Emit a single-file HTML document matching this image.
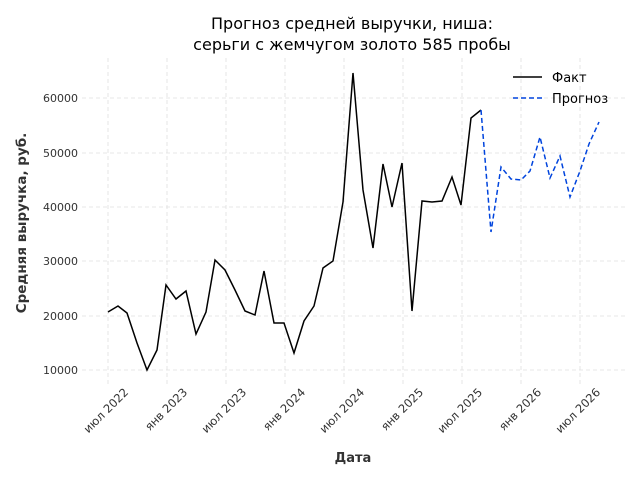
<!DOCTYPE html>
<html><head><meta charset="utf-8"><style>body{margin:0;background:#fff}svg{display:block}text{font-family:"DejaVu Sans","Liberation Sans",sans-serif}</style></head><body>
<svg width="640" height="480" viewBox="0 0 640 480">
<g stroke="#e0e0e0" stroke-width="0.8" stroke-dasharray="4,3">
<line x1="108" y1="58" x2="108" y2="387"/><line x1="167" y1="58" x2="167" y2="387"/><line x1="226" y1="58" x2="226" y2="387"/><line x1="285" y1="58" x2="285" y2="387"/><line x1="344" y1="58" x2="344" y2="387"/><line x1="403" y1="58" x2="403" y2="387"/><line x1="462" y1="58" x2="462" y2="387"/><line x1="521" y1="58" x2="521" y2="387"/><line x1="580" y1="58" x2="580" y2="387"/>
<line x1="82" y1="370" x2="625" y2="370"/><line x1="82" y1="316" x2="625" y2="316"/><line x1="82" y1="261" x2="625" y2="261"/><line x1="82" y1="207" x2="625" y2="207"/><line x1="82" y1="153" x2="625" y2="153"/><line x1="82" y1="98" x2="625" y2="98"/>
</g>
<g font-size="11" fill="#333" text-anchor="end">
<text x="78" y="374">10000</text><text x="78" y="320">20000</text><text x="78" y="265">30000</text><text x="78" y="211">40000</text><text x="78" y="157">50000</text><text x="78" y="102">60000</text>
</g>
<g font-size="11.5" fill="#333" text-anchor="end">
<text transform="translate(129,393) rotate(-45)">июл 2022</text>
<text transform="translate(188,393) rotate(-45)">янв 2023</text>
<text transform="translate(247,393) rotate(-45)">июл 2023</text>
<text transform="translate(306,393) rotate(-45)">янв 2024</text>
<text transform="translate(365,393) rotate(-45)">июл 2024</text>
<text transform="translate(424,393) rotate(-45)">янв 2025</text>
<text transform="translate(483,393) rotate(-45)">июл 2025</text>
<text transform="translate(542,393) rotate(-45)">янв 2026</text>
<text transform="translate(601,393) rotate(-45)">июл 2026</text>
</g>
<polyline fill="none" stroke="#000" stroke-width="1.5" points="108,312 118,306 127,313 137,343 147,370 157,350 166,285 176,299 186,291 196,334 206,312 215,260 225,270 235,290 245,311 255,315 264,271 274,323 284,323 294,353 304,321 314,306 323,268 333,261 343,202 353,73 363,190 373,248 383,164 392,207 402,163 412,311 422,201 432,202 442,201 452,177 461,205 471,118 481,110"/>
<polyline fill="none" stroke="#0044dd" stroke-width="1.5" stroke-dasharray="5,3" points="481,110 491,232 501,167 511,179 521,180 530,171 540,137 550,178 560,156 570,197 580,171 589,144 599,122"/>
<text x="352" y="29" font-size="16" text-anchor="middle" fill="#000">Прогноз средней выручки, ниша:</text>
<text x="352" y="50" font-size="16" text-anchor="middle" fill="#000">серьги с жемчугом золото 585 пробы</text>
<text x="353" y="462" font-size="13" font-weight="bold" text-anchor="middle" fill="#333">Дата</text>
<text transform="translate(26,223) rotate(-90)" font-size="13.5" font-weight="bold" text-anchor="middle" fill="#333">Средняя выручка, руб.</text>
<line x1="513" y1="77" x2="542" y2="77" stroke="#000" stroke-width="1.5"/>
<text x="552" y="82" font-size="13" fill="#000">Факт</text>
<line x1="513" y1="98" x2="542" y2="98" stroke="#0044dd" stroke-width="1.5" stroke-dasharray="5,3"/>
<text x="552" y="103" font-size="13" fill="#000">Прогноз</text>
</svg>
</body></html>
